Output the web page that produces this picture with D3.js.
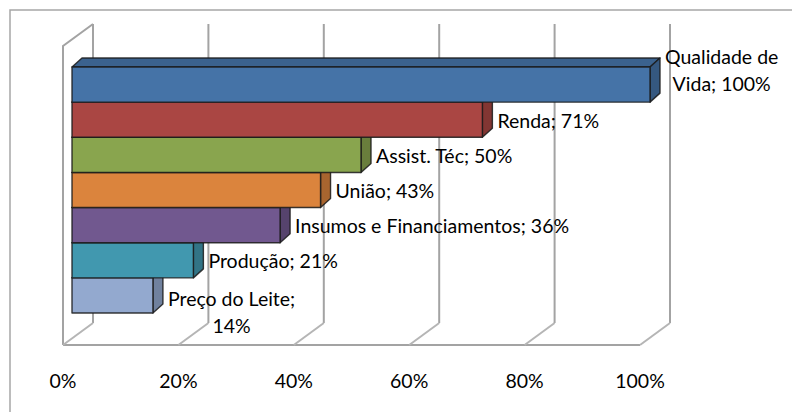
<!DOCTYPE html>
<html>
<head>
<meta charset="utf-8">
<script src="https://cdn.jsdelivr.net/npm/d3@7"></script>
<style>
  body { margin: 0; background: #fff; }
  svg { display: block; font-family: Lato, "Open Sans", sans-serif; }
</style>
</head>
<body>
<svg id="chart" width="792" height="412"></svg>
<script>
// chart data
const CATEGORIES = ['Qualidade de Vida', 'Renda', 'Assist. Téc', 'União', 'Insumos e Financiamentos', 'Produção', 'Preço do Leite'];
const VALUES = [1.00, 0.71, 0.50, 0.43, 0.36, 0.21, 0.14];
const LABELS = [['Qualidade de', 'Vida; 100%'], ['Renda; 71%'], ['Assist. Téc; 50%'], ['União; 43%'],
    ['Insumos e Financiamentos;  36%'], ['Produção; 21%'], ['Preço do Leite;', '14%']];
const TICKS = [0, 0.2, 0.4, 0.6, 0.8, 1.0];

const FILLS = ['#4573A7', '#AA4643', '#89A54E', '#DB843D', '#71588F', '#4198AF', '#93A9CF'];

// 3d layout
const DEPTH = { dx: 30, dy: -22 };      // floor depth (front -> back wall)
const BAR_DEPTH = { dx: 10, dy: -9 };
const FLOOR_Y = 345;
const WALL_TOP = 24;
const LINE_COLOR = '#a3a3a3';
const FONT_SIZE = 19.5;

const svg = d3.select('#chart');

// outer frame (runs past the window on right and bottom)
svg.append('rect')
    .attr('x', 10).attr('y', 10)
    .attr('width', 900).attr('height', 500)
    .attr('fill', 'none')
    .attr('stroke', '#a6a6a6')
    .attr('stroke-width', 1.5);

const xFront = d3.scaleLinear().domain([0, 1]).range([63, 640]);
const xBack = v => xFront(v) + DEPTH.dx;
const xBar = d3.scaleLinear().domain([0, 1]).range([72, 650]);
const yBand = d3.scaleBand().domain(CATEGORIES).range([67, 313]).padding(0);

const grid = svg.append('g')
    .attr('fill', 'none')
    .attr('stroke', LINE_COLOR)
    .attr('stroke-width', 2);

// left side wall
grid.append('path')
    .attr('d', d3.line()([
        [xFront(0), FLOOR_Y],
        [xFront(0), WALL_TOP - DEPTH.dy],
        [xBack(0), WALL_TOP]
    ]));

// back wall gridlines
grid.selectAll('line.grid')
    .data(TICKS)
    .enter()
    .append('line')
        .attr('class', 'grid')
        .attr('x1', d => xBack(d)).attr('x2', d => xBack(d))
        .attr('y1', WALL_TOP).attr('y2', FLOOR_Y + DEPTH.dy);

// floor
grid.append('line')
    .attr('x1', xFront(0)).attr('x2', xFront(1))
    .attr('y1', FLOOR_Y).attr('y2', FLOOR_Y);
grid.selectAll('line.floor')
    .data(TICKS)
    .enter()
    .append('line')
        .attr('class', 'floor')
        .attr('stroke', '#b5b5b5')
        .attr('x1', d => xFront(d)).attr('x2', d => xBack(d))
        .attr('y1', FLOOR_Y).attr('y2', FLOOR_Y + DEPTH.dy);

// tick labels
svg.append('g')
    .selectAll('text')
    .data(TICKS)
    .enter()
    .append('text')
        .attr('x', d => xFront(d))
        .attr('y', 381)
        .attr('dy', '0.35em')
        .attr('text-anchor', 'middle')
        .attr('font-size', FONT_SIZE)
        .attr('fill', '#000')
        .text(d3.format('.0%'));

// bars, bottom one first so upper bars cover the hidden top faces
const data = CATEGORIES.map((c, i) => ({ name: c, value: VALUES[i], fill: FILLS[i], label: LABELS[i], i }));

const bars = svg.append('g')
    .selectAll('g')
    .data(data.slice().reverse())
    .enter()
    .append('g')
        .attr('stroke', '#1a1a1a')
        .attr('stroke-opacity', 0.85)
        .attr('stroke-width', 1.4)
        .attr('stroke-linejoin', 'round');

const x0 = xBar(0);
bars.append('path')   // top face
    .attr('fill', d => d3.color(d.fill).darker(0.45))
    .attr('d', d => {
        const y = yBand(d.name), x1 = xBar(d.value);
        return d3.line()([[x0, y], [x0 + BAR_DEPTH.dx, y + BAR_DEPTH.dy],
            [x1 + BAR_DEPTH.dx, y + BAR_DEPTH.dy], [x1, y]]) + 'Z';
    });
bars.append('path')   // side face
    .attr('fill', d => d3.color(d.fill).darker(0.75))
    .attr('d', d => {
        const y = yBand(d.name), x1 = xBar(d.value), h = yBand.bandwidth();
        return d3.line()([[x1, y], [x1 + BAR_DEPTH.dx, y + BAR_DEPTH.dy],
            [x1 + BAR_DEPTH.dx, y + h + BAR_DEPTH.dy], [x1, y + h]]) + 'Z';
    });
bars.append('rect')   // front face
    .attr('fill', d => d.fill)
    .attr('x', x0)
    .attr('y', d => yBand(d.name))
    .attr('width', d => xBar(d.value) - x0)
    .attr('height', yBand.bandwidth());

// data labels
const LINE_GAP = 27;
const LABEL_SHIFT = { 0: -27, 6: 4 };
const labels = svg.append('g')
    .attr('font-size', FONT_SIZE)
    .attr('fill', '#000')
    .selectAll('text')
    .data(data)
    .enter()
    .append('text');

labels.each(function (d) {
    const t = d3.select(this);
    const left = xBar(d.value) + BAR_DEPTH.dx + 5;
    const yc = yBand(d.name) + yBand.bandwidth() / 2 + (LABEL_SHIFT[d.i] || 1);
    d.label.forEach((line, k) => {
        t.append('tspan')
            .attr('x', left)
            .attr('y', yc + k * LINE_GAP)
            .attr('dy', '0.35em')
            .text(line);
    });
    if (d.label.length > 1) {
        // wrapped labels are centred on their widest line
        const spans = t.selectAll('tspan').nodes();
        const w = d3.max(spans, s => s.getComputedTextLength());
        t.attr('text-anchor', 'middle');
        t.selectAll('tspan').attr('x', left + w / 2);
    }
});
</script>
</body>
</html>
